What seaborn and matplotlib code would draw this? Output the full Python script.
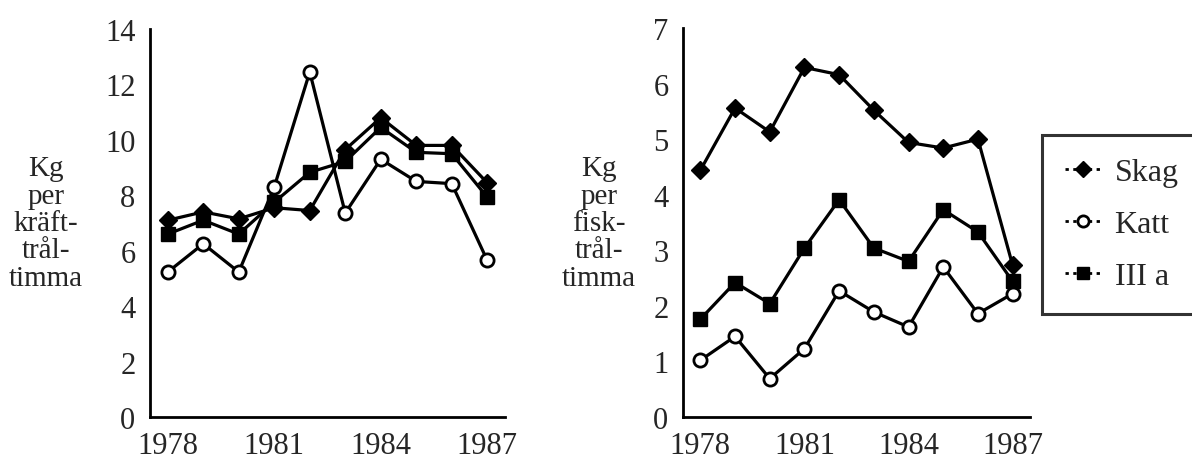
import matplotlib
matplotlib.use('Agg')
import matplotlib.pyplot as plt
import seaborn as sns
import pandas as pd
from matplotlib.lines import Line2D
from matplotlib.ticker import FixedLocator, NullFormatter

years = [1978, 1979, 1980, 1981, 1982, 1983, 1984, 1985, 1986, 1987]
year_labels = ["1978", "1981", "1984", "1987"]

# Kg per kräfttrålstimma
skag_kraft = [7.1, 7.4, 7.15, 7.55, 7.45, 9.65, 10.8, 9.8, 9.8, 8.45]
katt_kraft = [5.23, 6.25, 5.23, 8.3, 12.45, 7.36, 9.3, 8.5, 8.42, 5.65]
iiia_kraft = [6.6, 7.1, 6.6, 7.75, 8.83, 9.22, 10.45, 9.55, 9.5, 7.93]

# Kg per fisktrålstimma
skag_fisk = [4.44, 5.56, 5.13, 6.29, 6.16, 5.52, 4.94, 4.84, 5.0, 2.73]
katt_fisk = [1.02, 1.45, 0.69, 1.23, 2.27, 1.89, 1.62, 2.70, 1.86, 2.22]
iiia_fisk = [1.76, 2.42, 2.04, 3.04, 3.91, 3.04, 2.80, 3.73, 3.33, 2.44]

series_names = ["Skag", "Katt", "III a"]

sns.set_style("white")
plt.rcParams['font.family'] = ['Liberation Serif', 'DejaVu Serif']

W, H = 1192, 464
fig = plt.figure(figsize=(W / 100, H / 100), dpi=100)

LW = 2.3
styles = {
    "Katt": dict(marker='o', markersize=9.5, markerfacecolor='white',
                 markeredgecolor='black', markeredgewidth=2.0),
    "Skag": dict(marker='D', markersize=9.0, markerfacecolor='black',
                 markeredgecolor='black', markeredgewidth=1.0),
    "III a": dict(marker='s', markersize=10.5, markerfacecolor='black',
                  markeredgecolor='black', markeredgewidth=1.0),
}


def panel(rect, data, ymax, ystep):
    ax = fig.add_axes(rect)
    for name in ["Katt", "Skag", "III a"]:
        df = pd.DataFrame({"year": years, "val": data[name]})
        sns.lineplot(data=df, x="year", y="val", ax=ax, color='black',
                     linewidth=LW, **styles[name])
    ax.set_xlim(1977.5, 1987.5)
    ax.set_ylim(0, ymax)
    ax.set_xlabel('')
    ax.set_ylabel('')
    for s in ['top', 'right']:
        ax.spines[s].set_visible(False)
    for s in ['left', 'bottom']:
        ax.spines[s].set_linewidth(2.0)
        ax.spines[s].set_color('black')
    ax.xaxis.set_major_locator(FixedLocator([1978, 1981, 1984, 1987]))
    ax.set_xticklabels(year_labels)
    ax.xaxis.set_minor_locator(FixedLocator([y - 0.5 for y in years] + [1987.5]))
    ax.xaxis.set_minor_formatter(NullFormatter())
    ax.tick_params(axis='x', which='major', length=0, pad=10, labelsize=22)
    ax.tick_params(axis='x', which='minor', direction='inout', length=9,
                   width=2.0, color='black')
    ax.set_yticks(list(range(0, ymax + 1, ystep)))
    ax.tick_params(axis='y', which='major', direction='inout', length=9,
                   width=2.0, pad=6, labelsize=22, color='black')
    ax.set_facecolor('none')
    return ax


ax1 = panel([150 / W, 1 - 418 / H, 355 / W, 388 / H],
            {"Skag": skag_kraft, "Katt": katt_kraft, "III a": iiia_kraft}, 14, 2)
ax2 = panel([683 / W, 1 - 418 / H, 347 / W, 389 / H],
            {"Skag": skag_fisk, "Katt": katt_fisk, "III a": iiia_fisk}, 7, 1)

fig.text(46 / W, 1 - 224 / H, "Kg\nper\nkräft-\ntrål-\ntimma", ha='center',
         va='center', multialignment='center', fontsize=21, linespacing=1.07)
fig.text(599 / W, 1 - 224 / H, "Kg\nper\nfisk-\ntrål-\ntimma", ha='center',
         va='center', multialignment='center', fontsize=21, linespacing=1.07)

handles = []
for name in series_names:
    st = dict(styles[name])
    st['markersize'] = st['markersize'] * 0.85
    handles.append(Line2D([0], [0], color='black', linewidth=2.0,
                          linestyle=(0, (1.2, 1.6)), **st))
leg = fig.legend(handles, series_names, loc='upper left',
                 bbox_to_anchor=(1042 / W, 1 - 136 / H),
                 bbox_transform=fig.transFigure, frameon=True, fancybox=False,
                 fontsize=23, handlelength=1.1, handletextpad=0.45,
                 labelspacing=0.7, borderpad=0.72, borderaxespad=0.0)
fr = leg.get_frame()
fr.set_edgecolor('black')
fr.set_linewidth(2.2)
fr.set_facecolor('white')

fig.savefig('out.png', dpi=100)
